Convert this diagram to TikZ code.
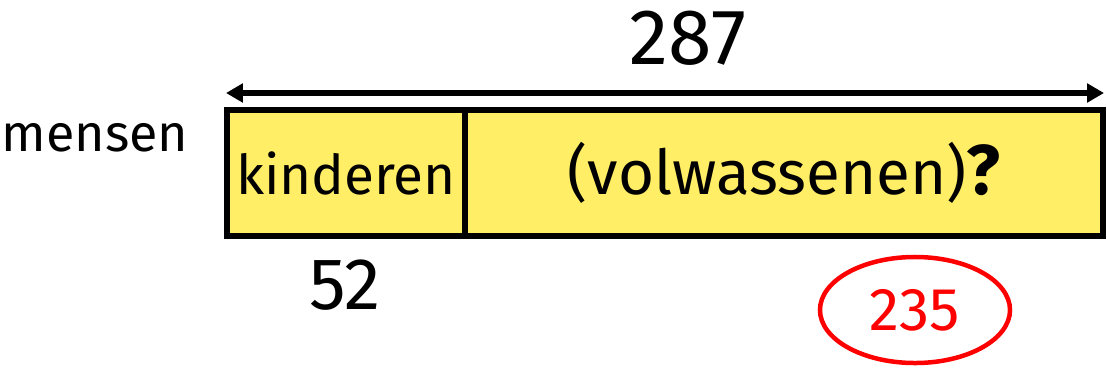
\documentclass[tikz,border=0pt]{standalone}
\usepackage{fontspec}
\setmainfont{Fira Sans}
\usetikzlibrary{arrows.meta,shapes.geometric}
\definecolor{barfill}{RGB}{255,238,102}
\definecolor{answerred}{RGB}{255,0,0}
\newcommand{\fs}[1]{\fontsize{#1}{1.2\dimexpr#1\relax}\selectfont}

\begin{document}
\begin{tikzpicture}[x=0.025cm,y=-0.025cm,
        partbox/.style={draw,line width=3.9pt,fill=barfill,minimum height=3.15cm,inner sep=0pt},
        dimarrow/.style={line width=3.9pt,{Triangle[length=12pt,width=13pt]}-{Triangle[length=12pt,width=13pt]}},
        answer/.style={ellipse,draw=answerred,text=answerred,line width=3.2pt,minimum width=4.75cm,minimum height=2.65cm}]
    \useasboundingbox (0,0) rectangle (1107,371);
    % the bar: children and adults
    \node[partbox,minimum width=5.95cm] (kids) at (346,173) {\fs{39pt}kinderen};
    \node[partbox,minimum width=15.95cm] (adults) at (784,173) {\fs{44pt}(volwassenen){\fs{50pt}\textbf{?}}};
    \coordinate (arrL) at (226,93);
    \coordinate (arrR) at (1104,93);
    \draw[dimarrow] (arrL) -- (arrR);
    \node (total) at (688,38) {\fs{56pt}287};
    \node (people) at (95,138) {\fs{37pt}mensen};
    \node (kidsnum) at (345,285) {\fs{52pt}52};
    \node[answer] (result) at (915,310) {\fs{43pt}235};
\end{tikzpicture}
\end{document}
